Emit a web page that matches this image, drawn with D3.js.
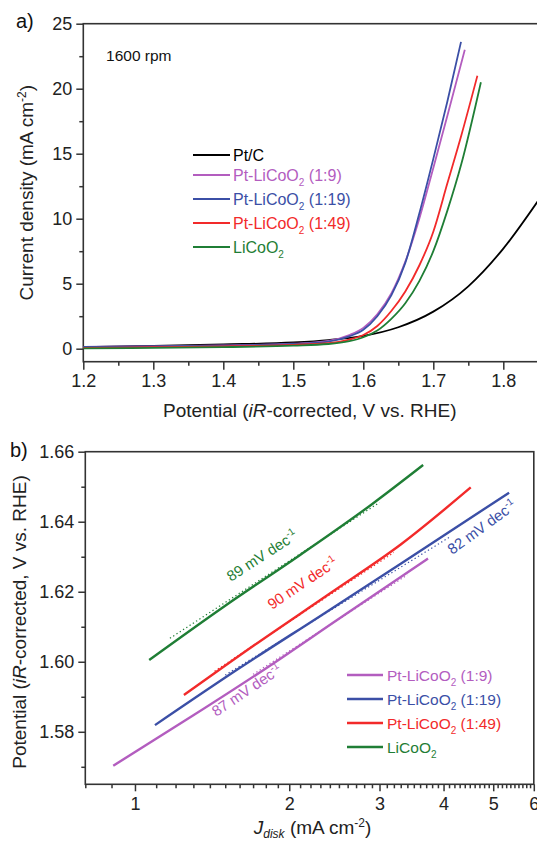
<!DOCTYPE html>
<html>
<head>
<meta charset="utf-8">
<script src="https://cdn.jsdelivr.net/npm/d3@7"></script>
<style>
  html, body { margin: 0; padding: 0; background: #fff; }
  svg { display: block; font-family: "Liberation Sans", Arial, sans-serif; }
</style>
</head>
<body>
<svg id="chart" width="537" height="841"></svg>
<script>
// ---- data: panel a (potential V vs RHE, current density mA cm-2) ----
const seriesLabels = [
    ['Pt/C', '', ''],
    ['Pt-LiCoO', '2', ' (1:9)'],
    ['Pt-LiCoO', '2', ' (1:19)'],
    ['Pt-LiCoO', '2', ' (1:49)'],
    ['LiCoO', '2', '']
];
const seriesColors = ['#000000', '#b35dbf', '#3b4fa6', '#f22a2a', '#1f7e35'];

const ptcPolarization = [[1.2, 0.12], [1.3, 0.22], [1.4, 0.33], [1.5, 0.48], [1.55, 0.66], [1.6, 0.98],
    [1.65, 1.65], [1.7, 2.85], [1.75, 4.8], [1.8, 7.7], [1.85, 11.4]];
const pt19Polarization = [[1.2, 0.14], [1.3, 0.18], [1.4, 0.25], [1.5, 0.38], [1.55, 0.6], [1.58, 1.05],
    [1.6, 1.6], [1.62, 2.65], [1.64, 4.25], [1.66, 6.7], [1.68, 10.0], [1.7, 13.9], [1.72, 17.9], [1.745, 23.0]];
const pt119Polarization = [[1.2, 0.13], [1.3, 0.17], [1.4, 0.24], [1.5, 0.36], [1.55, 0.55], [1.58, 0.95],
    [1.6, 1.45], [1.62, 2.5], [1.64, 4.1], [1.66, 6.6], [1.68, 10.4], [1.7, 14.6], [1.72, 19.0], [1.7396, 23.6]];
const pt149Polarization = [[1.2, 0.06], [1.3, 0.12], [1.4, 0.18], [1.5, 0.3], [1.55, 0.42], [1.58, 0.7],
    [1.6, 1.05], [1.62, 1.75], [1.64, 2.9], [1.66, 4.4], [1.68, 6.4], [1.7, 9.0], [1.72, 12.7], [1.74, 16.4], [1.763, 21.0]];
const licooPolarization = [[1.2, 0.02], [1.3, 0.06], [1.4, 0.12], [1.5, 0.24], [1.55, 0.36], [1.58, 0.58],
    [1.6, 0.88], [1.62, 1.4], [1.64, 2.3], [1.66, 3.5], [1.68, 5.2], [1.7, 7.5], [1.72, 10.6], [1.74, 14.2], [1.768, 20.5]];
const polarizationSeries = [ptcPolarization, pt19Polarization, pt119Polarization, pt149Polarization, licooPolarization];

const xTicksA = [1.2, 1.3, 1.4, 1.5, 1.6, 1.7, 1.8];
const xMinorA = [1.25, 1.35, 1.45, 1.55, 1.65, 1.75, 1.85];
const yTicksA = [0, 5, 10, 15, 20, 25];
const yMinorA = [2.5, 7.5, 12.5, 17.5, 22.5];

// ---- data: panel b (Tafel, J_disk mA cm-2 vs potential) ----
const pt19Tafel = [[0.907, 1.5703], [1.3, 1.5847], [1.8, 1.5981], [2.5, 1.6123], [3.73, 1.6295]];
const pt119Tafel = [[1.094, 1.5819], [1.6, 1.5982], [2.3, 1.6131], [3.3, 1.628], [5.37, 1.6483]];
const pt149Tafel = [[1.246, 1.5905], [1.7, 1.6045], [2.4, 1.6195], [3.3, 1.6335], [4.52, 1.6498]];
const licooTafel = [[1.066, 1.6005], [1.5, 1.616], [2.1, 1.6305], [2.9, 1.645], [3.65, 1.6562]];
const tafelSeries = [pt19Tafel, pt119Tafel, pt149Tafel, licooTafel];

const pt19Fit = [[1.7, 1.5964], [3.4, 1.6248]];
const pt119Fit = [[1.5, 1.5962], [4.1, 1.6355]];
const pt149Fit = [[1.43, 1.5973], [3.2, 1.6312]];
const licooFit = [[1.17, 1.6067], [3.0, 1.6455]];
const tafelFits = [pt19Fit, pt119Fit, pt149Fit, licooFit];

// slope labels: value, anchor J, anchor V, rotation
const slopeLabels = ['87', '82', '90', '89'];
const slopeAnchorJ = [1.44, 4.16, 1.85, 1.54];
const slopeAnchorV = [1.5842, 1.6305, 1.6148, 1.6228];
const slopeAngles = [-34, -36, -34, -33];

const xTicksB = [1, 2, 3, 4, 5, 6];
const xMinorB = d3.range(8, 60).map(d => d / 10).filter(d => !xTicksB.includes(d));
const yTicksB = [1.58, 1.60, 1.62, 1.64, 1.66];
const yMinorB = [1.57, 1.59, 1.61, 1.63, 1.65];

const axisColor = '#333';
const svg = d3.select('#chart');

// ---------------- panel a ----------------
const areaA = { left: 83.3, right: 538.3, top: 23.7, bottom: 361.7 };
const xA = d3.scaleLinear().domain([1.2, 1.85]).range([areaA.left, areaA.right]);
const yA = d3.scaleLinear().domain([-1, 25]).range([areaA.bottom, areaA.top]);

svg.append('clipPath').attr('id', 'clipA')
    .append('rect')
    .attr('x', areaA.left).attr('y', areaA.top)
    .attr('width', areaA.right - areaA.left).attr('height', areaA.bottom - areaA.top);

function styleAxis(g, fontSize) {
    g.select('.domain').remove();
    g.selectAll('.tick line').attr('stroke', axisColor).attr('stroke-width', 1.5);
    g.selectAll('.tick text').attr('fill', '#222').attr('font-size', fontSize)
        .attr('font-family', '"Liberation Sans", Arial, sans-serif');
}

svg.append('g').attr('transform', `translate(0,${areaA.bottom})`)
    .call(d3.axisBottom(xA).tickValues(xTicksA).tickSize(8).tickPadding(5).tickFormat(d3.format('.1f')))
    .call(g => styleAxis(g, 18));
svg.append('g').attr('transform', `translate(0,${areaA.bottom})`)
    .call(d3.axisBottom(xA).tickValues(xMinorA).tickSize(4).tickFormat(''))
    .call(g => styleAxis(g, 18));
svg.append('g').attr('transform', `translate(${areaA.left},0)`)
    .call(d3.axisLeft(yA).tickValues(yTicksA).tickSize(7).tickPadding(4))
    .call(g => styleAxis(g, 18));
svg.append('g').attr('transform', `translate(${areaA.left},0)`)
    .call(d3.axisLeft(yA).tickValues(yMinorA).tickSize(4).tickFormat(''))
    .call(g => styleAxis(g, 18));

svg.append('rect')
    .attr('x', areaA.left).attr('y', areaA.top)
    .attr('width', areaA.right - areaA.left).attr('height', areaA.bottom - areaA.top)
    .attr('fill', 'none').attr('stroke', axisColor).attr('stroke-width', 1.6);

const lineA = d3.line().x(d => xA(d[0])).y(d => yA(d[1])).curve(d3.curveMonotoneX);
svg.append('g').attr('clip-path', 'url(#clipA)')
    .selectAll('path')
    .data(polarizationSeries)
    .join('path')
    .attr('d', lineA)
    .attr('fill', 'none')
    .attr('stroke', (d, i) => seriesColors[i])
    .attr('stroke-width', 1.8);

svg.append('text').attr('x', 16).attr('y', 28).attr('font-size', 20).attr('fill', '#111').text('a)');
svg.append('text').attr('x', xA(1.2325)).attr('y', yA(22.1))
    .attr('font-size', 15.5).attr('fill', '#111').text('1600 rpm');

// axis titles
svg.append('text')
    .attr('x', (areaA.left + areaA.right) / 2 - 1).attr('y', 417)
    .attr('text-anchor', 'middle').attr('font-size', 19).attr('fill', '#222')
    .call(t => {
        t.append('tspan').text('Potential (');
        t.append('tspan').attr('font-style', 'italic').text('iR');
        t.append('tspan').text('-corrected, V vs. RHE)');
    });
svg.append('text')
    .attr('transform', `translate(33,${(areaA.top + areaA.bottom) / 2}) rotate(-90)`)
    .attr('text-anchor', 'middle').attr('font-size', 19).attr('fill', '#222')
    .call(t => {
        t.append('tspan').text('Current density (mA cm');
        t.append('tspan').attr('font-size', 12).attr('dy', -7).text('-2');
        t.append('tspan').attr('dy', 7).text(')');
    });

function addLabel(text, parts, subSize) {
    text.append('tspan').text(parts[0]);
    if (parts[1]) {
        text.append('tspan').attr('font-size', subSize).attr('dy', 5).text(parts[1]);
        text.append('tspan').attr('dy', -5).text(parts[2]);
    }
}

// legend a
const legendARows = [155, 175, 199, 223, 247];
const legendA = svg.append('g');
seriesLabels.forEach((parts, i) => {
    legendA.append('line')
        .attr('x1', 193).attr('x2', 230)
        .attr('y1', legendARows[i]).attr('y2', legendARows[i])
        .attr('stroke', seriesColors[i]).attr('stroke-width', 1.8);
    legendA.append('text')
        .attr('x', 233).attr('y', legendARows[i]).attr('dy', '0.36em')
        .attr('font-size', 16).attr('fill', seriesColors[i])
        .call(t => addLabel(t, parts, 10));
});

// ---------------- panel b ----------------
const areaB = { left: 85.3, right: 533.8, top: 451.7, bottom: 784.3 };
const xB = d3.scaleLog().domain([0.8, 6]).range([areaB.left, areaB.right]);
const yB = d3.scaleLinear().domain([1.565, 1.66]).range([areaB.bottom, areaB.top]);

svg.append('g').attr('transform', `translate(0,${areaB.bottom})`)
    .call(d3.axisBottom(xB).tickValues(xTicksB).tickSize(7).tickPadding(6).tickFormat(d3.format('d')))
    .call(g => styleAxis(g, 18));
svg.append('g').attr('transform', `translate(0,${areaB.bottom})`)
    .call(d3.axisBottom(xB).tickValues(xMinorB).tickSize(4).tickFormat(''))
    .call(g => styleAxis(g, 18));
svg.append('g').attr('transform', `translate(${areaB.left},0)`)
    .call(d3.axisLeft(yB).tickValues(yTicksB).tickSize(7).tickPadding(4).tickFormat(d3.format('.2f')))
    .call(g => styleAxis(g, 18));
svg.append('g').attr('transform', `translate(${areaB.left},0)`)
    .call(d3.axisLeft(yB).tickValues(yMinorB).tickSize(4).tickFormat(''))
    .call(g => styleAxis(g, 18));

svg.append('rect')
    .attr('x', areaB.left).attr('y', areaB.top)
    .attr('width', areaB.right - areaB.left).attr('height', areaB.bottom - areaB.top)
    .attr('fill', 'none').attr('stroke', axisColor).attr('stroke-width', 1.6);

const tafelColors = seriesColors.slice(1);
const lineB = d3.line().x(d => xB(d[0])).y(d => yB(d[1])).curve(d3.curveMonotoneX);

svg.append('g').selectAll('path')
    .data(tafelFits)
    .join('path')
    .attr('d', d3.line().x(d => xB(d[0])).y(d => yB(d[1])))
    .attr('fill', 'none')
    .attr('stroke', (d, i) => tafelColors[i])
    .attr('stroke-width', 1.2)
    .attr('stroke-dasharray', '1.3,2.6');

svg.append('g').selectAll('path')
    .data(tafelSeries)
    .join('path')
    .attr('d', lineB)
    .attr('fill', 'none')
    .attr('stroke', (d, i) => tafelColors[i])
    .attr('stroke-width', 2.4);

slopeLabels.forEach((s, i) => {
    svg.append('text')
        .attr('transform', `translate(${xB(slopeAnchorJ[i])},${yB(slopeAnchorV[i])}) rotate(${slopeAngles[i]})`)
        .attr('font-size', 15).attr('fill', tafelColors[i])
        .call(t => {
            t.append('tspan').text(`${s} mV dec`);
            t.append('tspan').attr('font-size', 10).attr('dy', -6).text('-1');
        });
});

svg.append('text').attr('x', 10).attr('y', 457).attr('font-size', 20).attr('fill', '#111').text('b)');

svg.append('text')
    .attr('x', (areaB.left + areaB.right) / 2 + 3).attr('y', 834)
    .attr('text-anchor', 'middle').attr('font-size', 19).attr('fill', '#222')
    .call(t => {
        t.append('tspan').attr('font-style', 'italic').text('J');
        t.append('tspan').attr('font-style', 'italic').attr('font-size', 12).attr('dy', 4).text('disk');
        t.append('tspan').attr('dy', -4).text(' (mA cm');
        t.append('tspan').attr('font-size', 12).attr('dy', -7).text('-2');
        t.append('tspan').attr('dy', 7).text(')');
    });
svg.append('text')
    .attr('transform', `translate(26,${(areaB.top + areaB.bottom) / 2 + 4}) rotate(-90)`)
    .attr('text-anchor', 'middle').attr('font-size', 19).attr('fill', '#222')
    .call(t => {
        t.append('tspan').text('Potential (');
        t.append('tspan').attr('font-style', 'italic').text('iR');
        t.append('tspan').text('-corrected, V vs. RHE)');
    });

// legend b
const legendBRows = [675, 699, 723, 747];
const legendB = svg.append('g');
seriesLabels.slice(1).forEach((parts, i) => {
    legendB.append('line')
        .attr('x1', 347).attr('x2', 383)
        .attr('y1', legendBRows[i]).attr('y2', legendBRows[i])
        .attr('stroke', tafelColors[i]).attr('stroke-width', 2.4);
    legendB.append('text')
        .attr('x', 387).attr('y', legendBRows[i]).attr('dy', '0.36em')
        .attr('font-size', 15.5).attr('fill', tafelColors[i])
        .call(t => addLabel(t, parts, 10));
});
</script>
</body>
</html>
